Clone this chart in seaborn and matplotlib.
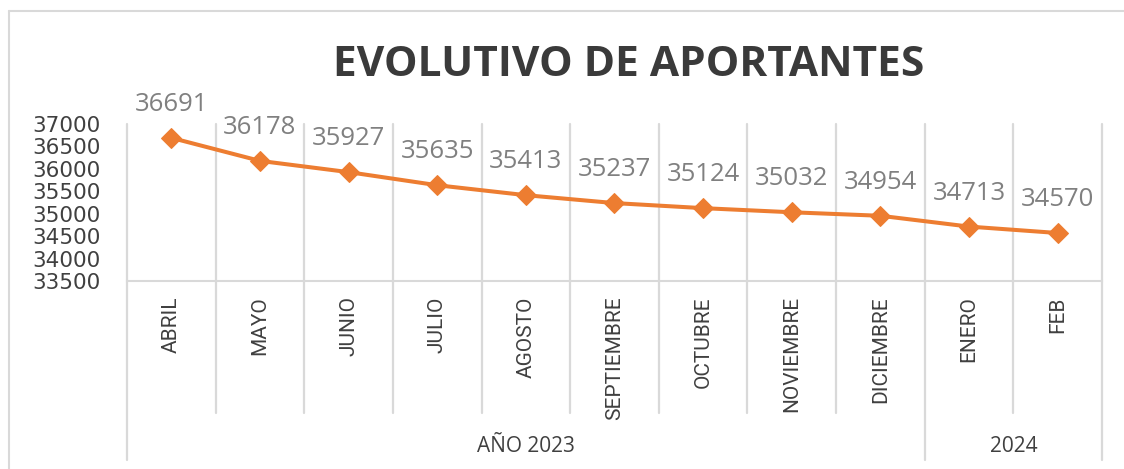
import matplotlib
matplotlib.use("Agg")
import matplotlib.pyplot as plt
import seaborn as sns
import pandas as pd
from matplotlib.lines import Line2D

months = ["ABRIL", "MAYO", "JUNIO", "JULIO", "AGOSTO", "SEPTIEMBRE", "OCTUBRE",
          "NOVIEMBRE", "DICIEMBRE", "ENERO", "FEB"]
values = [36691, 36178, 35927, 35635, 35413, 35237, 35124, 35032, 34954, 34713, 34570]
years = ["AÑO 2023", "2024"]
year_counts = [9, 2]
yticks = [33500, 34000, 34500, 35000, 35500, 36000, 36500, 37000]

sns.set_theme(style="white")
plt.rcParams['font.family'] = ['DejaVu Sans']

W, H = 1124, 469
fig = plt.figure(figsize=(W / 100, H / 100), dpi=100)
ax = fig.add_axes([127 / W, 1 - 281 / H, (1102 - 127) / W, (281 - 124) / H])

df = pd.DataFrame({"pos": list(range(len(months))), "val": values})
sns.lineplot(data=df, x="pos", y="val", ax=ax, color="#ED7D31", linewidth=2.9,
             marker="D", markersize=10, markeredgecolor="#ED7D31")

ax.set_xlim(-0.5, len(months) - 0.5)
ax.set_ylim(yticks[0], yticks[-1])
ax.set_yticks(yticks)
ax.set_yticklabels([str(t) for t in yticks], fontsize=15.5, color="#404040")
ax.set_xticks(range(len(months)))
ax.set_xticklabels(months, rotation=90, va="top", ha="center", fontsize=15,
                   color="#404040", family=["Roboto", "DejaVu Sans"])
ax.tick_params(axis="both", length=0)
ax.tick_params(axis="x", pad=11)
ax.tick_params(axis="y", pad=19)
ax.set_xlabel("")
ax.set_ylabel("")
for s in ["top", "right", "left"]:
    ax.spines[s].set_visible(False)
ax.spines["bottom"].set_color("#d9d9d9")
ax.spines["bottom"].set_linewidth(1.5)

# data labels
for i, v in enumerate(values):
    ax.annotate(str(v), (i, v), xytext=(0, 24), textcoords="offset points",
                ha="center", va="center", fontsize=18.5, color="#808080",
                family=["Open Sans", "DejaVu Sans"])

# vertical gridlines & category separators
bounds = [b - 0.5 for b in range(len(months) + 1)]
group_edges = [-0.5]
acc = -0.5
for c in year_counts:
    acc += c
    group_edges.append(acc)
trans = ax.get_xaxis_transform()
for b in bounds:
    is_group = any(abs(b - g) < 1e-9 for g in group_edges)
    y0 = (281 - 460) / 157 if is_group else (281 - 413) / 157
    ax.add_line(Line2D([b, b], [1, y0], transform=trans, color="#d9d9d9",
                       linewidth=1.6, clip_on=False, zorder=0))

# year labels
start = -0.5
for name, c in zip(years, year_counts):
    center = start + c / 2
    ax.text(center, (281 - 446) / 157, name, transform=trans, ha="center", va="center",
            fontsize=15, color="#404040", family=["Open Sans", "DejaVu Sans"])
    start += c

# title
fig.text(629 / W, 1 - 65 / H, "EVOLUTIVO DE APORTANTES", ha="center", va="center",
         fontsize=30.5, fontweight="bold", color="#3a3a3a", family=["Open Sans", "DejaVu Sans"])

# chart border (left and top)
fig.add_artist(Line2D([9 / W, 9 / W], [0, 1 - 11 / H], transform=fig.transFigure,
                      color="#d9d9d9", linewidth=1.5))
fig.add_artist(Line2D([9 / W, 1], [1 - 11 / H, 1 - 11 / H], transform=fig.transFigure,
                      color="#d9d9d9", linewidth=1.5))

fig.savefig("out.png", dpi=100)
